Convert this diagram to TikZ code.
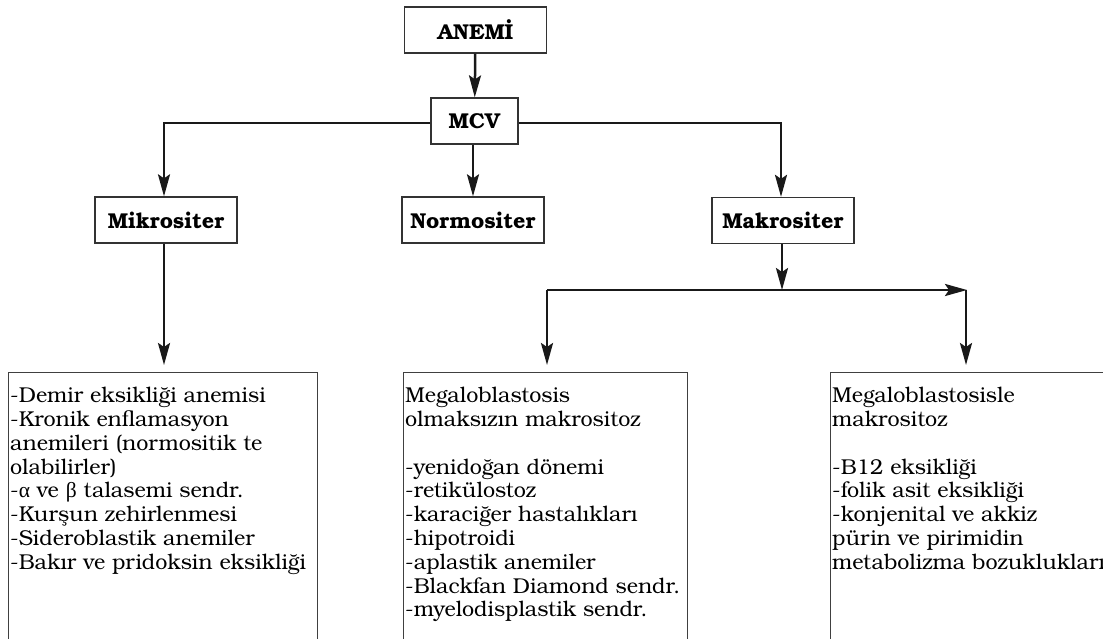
\documentclass[tikz,border=0pt]{standalone}
\usepackage{fontspec}
\setmainfont{texgyrebonum}[Extension=.otf,UprightFont=*-regular,BoldFont=*-bold,ItalicFont=*-italic,BoldItalicFont=*-bolditalic]
\newfontfamily\grk{Liberation Serif}
\usetikzlibrary{arrows.meta}

\tikzset{
  lbl/.style={draw=black!80, line width=1.3pt, minimum width=142pt, minimum height=46pt,
              inner sep=0pt, font=\fontsize{21.5}{24}\selectfont\bfseries},
  panel/.style={draw=black!75, line width=1.3pt, inner sep=0pt, anchor=north west},
  body/.style={anchor=north west, inner sep=0pt, align=left,
               font=\fontsize{21.5}{23.8}\selectfont},
  link/.style={line width=2.5pt, black!90},
  arr/.style={link, -{Stealth[length=22pt,width=12pt,inset=4pt]}},
}

\begin{document}
\begin{tikzpicture}[x=1pt,y=-1pt]
\path[use as bounding box, clip] (0,0) rectangle (1103,639);

% top of the tree
\node[lbl] (anemi) at (475.5,30) {ANEMİ};
\node[lbl, minimum width=87pt] (mcv) at (474.5,121) {MCV};

% MCV classes
\node[lbl] (mikro)  at (166,220) {Mikrositer};
\node[lbl] (normo)  at (473,220) {Normositer};
\node[lbl] (makro)  at (783,220.5) {Makrositer};

% turning points of the connectors
\coordinate (mleft)  at (164,123);
\coordinate (mright) at (781,123);
\coordinate (split)  at (782,290);
\coordinate (hl)     at (547,290);
\coordinate (hr)     at (967,290);
\coordinate (ltip)   at (164,365);
\coordinate (mtip)   at (547,365);
\coordinate (rtip)   at (966,365);

% lists, open at the bottom
\node[panel, minimum width=309pt, minimum height=300pt] (lpanel) at (8,372) {};
\node[panel, minimum width=284pt, minimum height=300pt] (mpanel) at (403,372) {};
\node[panel, minimum width=300pt, minimum height=300pt] (rpanel) at (830,372) {};

\node[body] (ltext) at (10,387) {-Demir eksikliği anemisi\\
-Kronik enflamasyon\\
anemileri (normositik te\\
olabilirler)\\
-{\grk α} ve {\grk β} talasemi sendr.\\
-Kurşun zehirlenmesi\\
-Sideroblastik anemiler\\
-Bakır ve pridoksin eksikliği};

\node[body] (mtext) at (405,387) {Megaloblastosis\\
olmaksızın makrositoz\\
\mbox{}\\
-yenidoğan dönemi\\
-retikülostoz\\
-karaciğer hastalıkları\\
-hipotroidi\\
-aplastik anemiler\\
-Blackfan Diamond sendr.\\
-myelodisplastik sendr.};

\node[body] (rtext) at (832,387) {Megaloblastosisle\\
makrositoz\\
\mbox{}\\
-B12 eksikliği\\
-folik asit eksikliği\\
-konjenital ve akkiz\\
pürin ve pirimidin\\
metabolizma bozuklukları};

% connectors
\draw[arr] (anemi) -- (mcv);
\draw[arr] (mcv.west |- mleft) -- (mleft) -- (mikro.north -| mleft);
\draw[arr] (mcv.east |- mright) -- (mright) -- (makro.north -| mright);
\draw[arr] (mcv.south -| normo.north) -- (normo.north);
\draw[arr] (makro.south -| split) -- (split);
\draw[arr] (hl) -- (hr);
\draw[arr] (hl) -- (mtip);
\draw[arr] (hr -| rtip) -- (rtip);
\draw[arr] (mikro.south -| ltip) -- (ltip);
\end{tikzpicture}
\end{document}
